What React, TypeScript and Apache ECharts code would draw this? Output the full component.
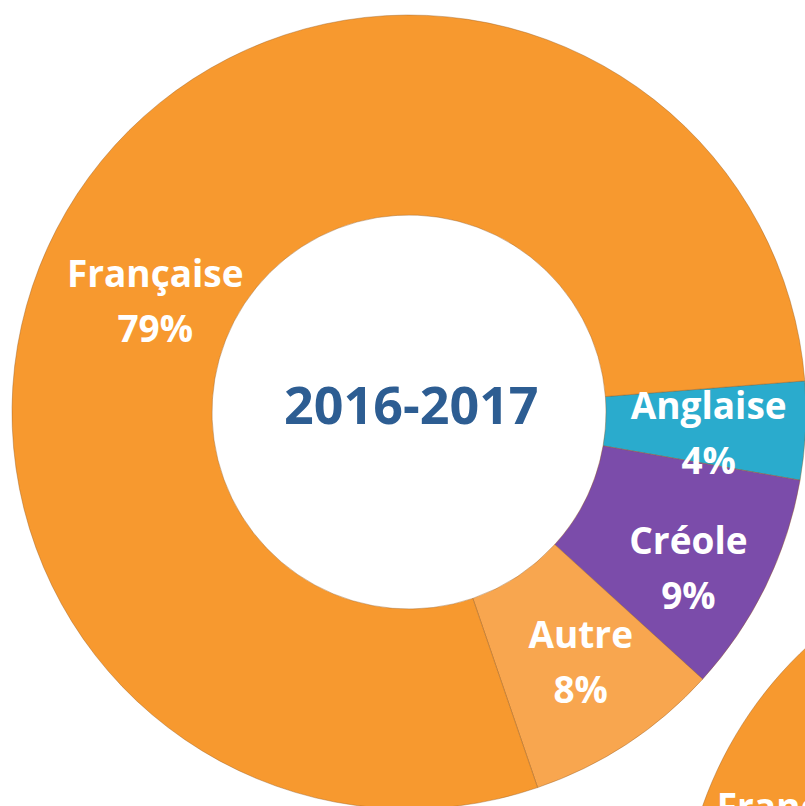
import React, { useEffect, useRef } from "react";
import * as echarts from "echarts";

const categories = ["Anglaise", "Créole", "Autre", "Française"];
const values = [4, 9, 8, 79];
const colors = ["#2AABCD", "#7B4CAA", "#F8A64F", "#F7992F"];
const centerTitle = "2016-2017";

const neighbourCategories = ["Française"];
const neighbourValues = [100];

const labelShift: Record<string, [number, number]> = {
  Anglaise: [0, 6],
  "Créole": [10, 23],
  Autre: [7, -2],
  "Française": [-3, 53],
};

export default function App() {
  const ref = useRef<HTMLDivElement>(null);
  useEffect(() => {
    if (!ref.current) return;
    const chart = echarts.init(ref.current, undefined, { renderer: "svg" });
    const cx = 409, cy = 412, r0 = 197, r = 397;
    const cx2 = 1077, cy2 = 938;
    const labelStyle = {
      show: true,
      position: "inside" as const,
      color: "#ffffff",
      fontFamily: "Open Sans",
      fontWeight: "bold" as const,
      fontSize: 37,
      lineHeight: 55,
    };
    const ringStyle = { borderColor: "rgba(150,90,30,0.4)", borderWidth: 1 };
    chart.setOption({
      animation: false,
      backgroundColor: "#ffffff",
      graphic: [
        {
          type: "text",
          left: cx - 125,
          top: 377,
          style: {
            text: centerTitle,
            fill: "#2D5D92",
            font: "bold 52px 'Open Sans'",
          },
        },
      ],
      series: [
        {
          type: "pie",
          center: [cx, cy],
          radius: [r0, r],
          startAngle: 4.5,
          clockwise: true,
          avoidLabelOverlap: false,
          itemStyle: ringStyle,
          label: { ...labelStyle, formatter: "{b}\n{c}%" },
          labelLine: { show: false },
          labelLayout: (p: any) => {
            const s = labelShift[categories[p.dataIndex]] || [0, 0];
            return { dx: s[0], dy: s[1] };
          },
          emphasis: { disabled: true },
          data: categories.map((name, i) => ({
            name,
            value: values[i],
            itemStyle: { color: colors[i] },
          })),
        },
        {
          type: "pie",
          center: [cx2, cy2],
          radius: [r0, r],
          startAngle: 335,
          clockwise: true,
          itemStyle: ringStyle,
          label: { ...labelStyle, formatter: "{b}" },
          labelLine: { show: false },
          labelLayout: () => ({ dx: 0, dy: -6 }),
          emphasis: { disabled: true },
          data: neighbourCategories.map((name, i) => ({
            name,
            value: neighbourValues[i],
            itemStyle: { color: colors[3] },
          })),
        },
      ],
    });
    return () => chart.dispose();
  }, []);
  return (
    <div
      ref={ref}
      style={{ position: "fixed", left: 0, top: 0, width: 805, height: 806 }}
    />
  );
}
